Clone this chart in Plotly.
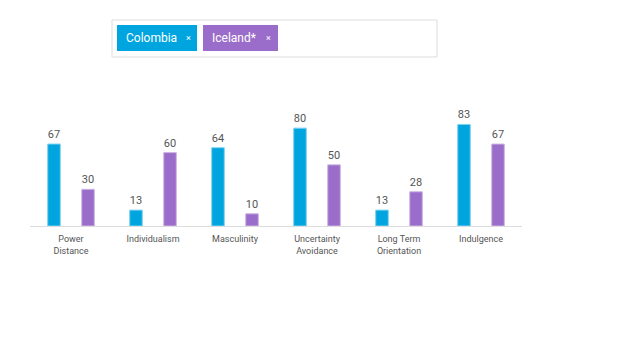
import plotly.graph_objects as go

categories = ["Power<br>Distance", "Individualism", "Masculinity",
              "Uncertainty<br>Avoidance", "Long Term<br>Orientation", "Indulgence"]
colombia = [67, 13, 64, 80, 13, 83]
iceland = [30, 60, 10, 50, 28, 67]
series_names = ["Colombia", "Iceland*"]
colors = ["#00A5DF", "#9B6DCA"]
edge_colors = ["#7FD2EF", "#CDB6E4"]

OFF = 8  # page body margin
W, H = 624, 343
ML = 30 - OFF
MR = W - (522 - OFF)
MT = 100 - OFF
MB = H - (226 - OFF)
PW, PH = W - ML - MR, H - MT - MB

def px(x):
    return (x - OFF - ML) / PW

def py(y):
    return (H - MB - (y - OFF)) / PH

fig = go.Figure()
for name, vals, c, ec in zip(series_names, [colombia, iceland], colors, edge_colors):
    fig.add_trace(go.Bar(
        x=categories, y=vals, name=name,
        marker=dict(color=c, line=dict(color=ec, width=1)),
        text=[str(v) for v in vals], textposition="outside",
        textfont=dict(family="Roboto, Arial, sans-serif", size=11, color="#555555"),
        cliponaxis=False,
    ))

fig.update_layout(
    width=W, height=H,
    margin=dict(l=ML, r=MR, t=MT, b=MB),
    paper_bgcolor="white", plot_bgcolor="white",
    barmode="group", bargap=0.17, bargroupgap=0.63,
    showlegend=False,
    font=dict(family="Roboto, Arial, sans-serif", color="#555555"),
    xaxis=dict(showgrid=False, showline=True, linecolor="#DDDDDD", linewidth=1,
               ticks="", ticklabelstandoff=4,
               tickfont=dict(size=9, color="#555555"), fixedrange=True),
    yaxis=dict(visible=False, range=[0, 103], showgrid=False, zeroline=False),
)

shapes = [
    dict(type="rect", xref="paper", yref="paper",
         x0=px(112), x1=px(437), y0=py(57), y1=py(20),
         line=dict(color="#DDDDDD", width=1), fillcolor="white", layer="below"),
    dict(type="rect", xref="paper", yref="paper",
         x0=px(117), x1=px(197), y0=py(51), y1=py(25),
         line=dict(width=0), fillcolor=colors[0]),
    dict(type="rect", xref="paper", yref="paper",
         x0=px(203), x1=px(278), y0=py(51), y1=py(25),
         line=dict(width=0), fillcolor=colors[1]),
]
fig.update_layout(shapes=shapes)

annos = [
    (124, series_names[0], 12),
    (184, "×", 9),
    (210, series_names[1], 12),
    (264, "×", 9),
]
for x, t, s in annos:
    fig.add_annotation(xref="paper", yref="paper", x=px(x), y=py(38),
                       xanchor="left", yanchor="middle", text=t, showarrow=False,
                       font=dict(family="Roboto, Arial, sans-serif", size=s, color="white"))

fig.write_html("out.html")
